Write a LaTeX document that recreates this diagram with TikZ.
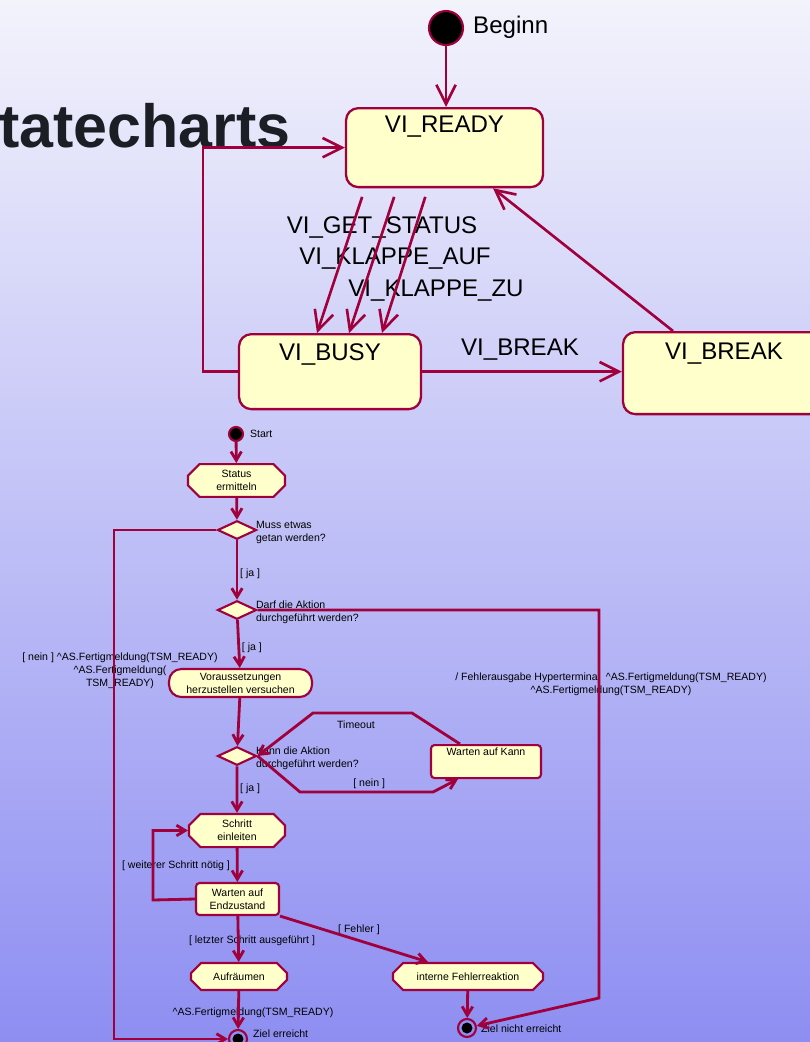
\documentclass[tikz,border=0pt]{standalone}
\usepackage{fontspec}
\setmainfont{Liberation Sans}
\usetikzlibrary{positioning,arrows.meta,shapes.geometric,shapes.misc}

\definecolor{umlline}{RGB}{160,0,60}
\definecolor{umlfill}{RGB}{255,255,204}
\definecolor{slidetop}{RGB}{243,243,252}
\definecolor{slidebot}{RGB}{142,142,242}
\definecolor{titlegray}{RGB}{27,30,36}

\begin{document}
\begin{tikzpicture}[
        x=0.02cm, y=-0.02cm,
        bigtext/.style={font=\fontsize{13.7}{16}\selectfont},
        smalltext/.style={font=\fontsize{6}{7.4}\selectfont, inner sep=1pt},
        vistate/.style={rectangle, rounded corners=7pt, draw=umlline, line width=1.3pt, fill=umlfill, bigtext, inner sep=0pt, anchor=north},
        startdot/.style={circle, draw=umlline, line width=1.2pt, fill=black, inner sep=0pt},
        endstate/.style={circle, draw=umlline, line width=1.2pt, inner sep=0pt, minimum size=0.36cm, path picture={\fill[black] (path picture bounding box.center) circle (0.11cm);}},
        decision/.style={diamond, draw=umlline, line width=1.2pt, fill=umlfill, inner sep=0pt, minimum width=0.78cm, minimum height=0.37cm},
        action/.style={chamfered rectangle, chamfered rectangle xsep=3pt, draw=umlline, line width=1.2pt, fill=umlfill, smalltext, align=center, inner sep=0pt},
        actround/.style={rectangle, rounded corners=7pt, draw=umlline, line width=1.2pt, fill=umlfill, smalltext, align=center, inner sep=0pt},
        actbox/.style={rectangle, rounded corners=2pt, draw=umlline, line width=1.2pt, fill=umlfill, smalltext, align=center, inner sep=0pt},
        trans/.style={draw=umlline, line width=1.5pt, -{Straight Barb[length=11pt,width=11pt]}},
        actflow/.style={draw=umlline, line width=1.6pt, -{Straight Barb[length=5pt,width=6pt]}}
    ]
        % slide background
        \shade[top color=slidetop, bottom color=slidebot] (0,0) rectangle (810,1042);
        \useasboundingbox (0,0) rectangle (810,1042);

        % Title
        \node[font=\fontsize{34.7}{40}\selectfont\bfseries, text=titlegray, anchor=base west, inner sep=0pt] (title) at (-1,147) {tatecharts};

        % States
        \node[startdot, minimum size=0.68cm] (begin) at (446,28) {};
        \node[bigtext, anchor=west] (beginlbl) at (467,27) {Beginn};
        \node[vistate, minimum width=3.94cm, text height=0.49cm, text depth=1.09cm] (ready) at (444.5,107) {VI\_READY};
        \node[vistate, minimum width=3.64cm, text height=0.53cm, text depth=0.97cm] (busy) at (330,333) {VI\_BUSY};
        \node[vistate, minimum width=4.04cm, text height=0.55cm, text depth=1.09cm] (brk) at (724,331) {VI\_BREAK};

        % Transition labels
        \node[bigtext] (getlbl) at (382,227) {VI\_GET\_STATUS};
        \node[bigtext] (auflbl) at (395,259) {VI\_KLAPPE\_AUF};
        \node[bigtext] (zulbl) at (436,291) {VI\_KLAPPE\_ZU};
        \node[bigtext] (brklbl) at (520,350) {VI\_BREAK};

        % Transitions
        \draw[trans] (begin) -- (ready.north -| begin);
        \draw[trans] (busy.west) -- ++(-35,0) |- (ready.west);
        \draw[trans] (busy.east) -- (busy.east -| brk.west);
        \draw[trans] (brk.north -| 673,0) -- (ready.south -| 493,0);
        \draw[trans, shorten <=0.18cm] (ready.south -| 365,0) -- (busy.north -| 317,0);
        \draw[trans, shorten <=0.18cm] (ready.south -| 397,0) -- (busy.north -| 349,0);
        \draw[trans, shorten <=0.18cm] (ready.south -| 428,0) -- (busy.north -| 382,0);

        % Activity
        \node[startdot, minimum size=0.28cm] (start) at (236,434) {};
        \node[smalltext, anchor=west] (startlbl) at (248,434) {Start};
        \node[action, minimum width=1.94cm, minimum height=0.54cm] (status) at (236.5,480.5) {Status\\ermitteln};
        \node[decision] (dec1) at (237,530) {};
        \node[smalltext, anchor=west, align=left] (dec1lbl) at (254,532) {Muss etwas\\getan werden?};
        \node[decision] (dec2) at (237,610) {};
        \node[smalltext, anchor=west, align=left] (dec2lbl) at (254,612) {Darf die Aktion\\durchgeführt werden?};
        \node[actround, minimum width=2.86cm, minimum height=0.56cm] (vor) at (240.5,683) {Voraussetzungen\\herzustellen versuchen};
        \node[decision] (dec3) at (237,756) {};
        \node[smalltext, anchor=west, align=left] (dec3lbl) at (254,758) {Kann die Aktion\\durchgeführt werden?};
        \node[actbox, anchor=north, minimum width=2.2cm, text height=0.21cm, text depth=0.45cm] (wait) at (486,744) {Warten auf Kann};
        \node[action, minimum width=1.92cm, minimum height=0.5cm] (schritt) at (237,830.5) {Schritt\\einleiten};
        \node[actbox, minimum width=1.66cm, minimum height=0.64cm] (endz) at (237.5,899) {Warten auf\\Endzustand};
        \node[action, minimum width=1.92cm, minimum height=0.54cm] (auf) at (239,976.5) {Aufräumen};
        \node[action, minimum width=3.0cm, minimum height=0.54cm] (fehl) at (468,976.5) {interne Fehlerreaktion};
        \node[endstate] (zielok) at (238,1039) {};
        \node[smalltext, anchor=west] (ziellbl) at (251,1034) {Ziel erreicht};
        \node[endstate] (zielno) at (467,1028) {};
        \node[smalltext, anchor=west] (nichtlbl) at (479,1029) {Ziel nicht erreicht};

        % Guard and action labels
        \node[smalltext, align=center] (neinlbl) at (120,671) {[ nein ] \textasciicircum AS.Fertigmeldung(TSM\_READY)\\\textasciicircum AS.Fertigmeldung(\\TSM\_READY)};
        \node[smalltext, align=center] (fehlerauslbl) at (611,684) {/ Fehlerausgabe Hyperterminal \ \textasciicircum AS.Fertigmeldung(TSM\_READY)\\\textasciicircum AS.Fertigmeldung(TSM\_READY)};
        \node[smalltext] (timeoutlbl) at (356,725) {Timeout};
        \node[smalltext] (weiterlbl) at (176,866) {[ weiterer Schritt nötig ]};
        \node[smalltext] (letztlbl) at (252,941) {[ letzter Schritt ausgeführt ]};
        \node[smalltext] (fehlerlbl) at (359,930) {[ Fehler ]};
        \node[smalltext] (fertiglbl) at (253,1013) {\textasciicircum AS.Fertigmeldung(TSM\_READY)};

        % bends
        \coordinate (noleft) at (114,1039);
        \coordinate (errbend) at (599,998);

        % Flows
        \draw[actflow] (start) -- (status);
        \draw[actflow] (status) -- (dec1);
        \draw[actflow] (dec1) -- node[smalltext, right, pos=0.56] (ja1) {[ ja ]} (dec2);
        \draw[actflow] (dec1.west) -| (noleft) -- (zielok);
        \draw[actflow] (dec2) -- node[smalltext, right, pos=0.58] (ja2) {[ ja ]} (vor);
        \draw[actflow] (dec2.east) -| (errbend) -- (zielno);
        \draw[actflow] (vor) -- (dec3);
        \draw[actflow] (dec3) -- node[smalltext, right, pos=0.48] (ja3) {[ ja ]} (schritt);
        \draw[actflow] (wait.north -| 460,0) -- (412,713) -- (313,713) -- (dec3.east);
        \draw[actflow] (dec3.east) -- (300,792) -- node[smalltext, above, pos=0.52] (nein3) {[ nein ]} (433,792) -- (wait.south -| 458,0);
        \draw[actflow] (schritt) -- (endz);
        \draw[actflow] (endz.west) -- (153,900) |- (schritt.west);
        \draw[actflow] (endz) -- (auf);
        \draw[actflow] (endz.south east) -- (fehl.north -| 428,0);
        \draw[actflow] (auf) -- (zielok);
        \draw[actflow] (fehl) -- (zielno);
    \end{tikzpicture}
\end{document}
